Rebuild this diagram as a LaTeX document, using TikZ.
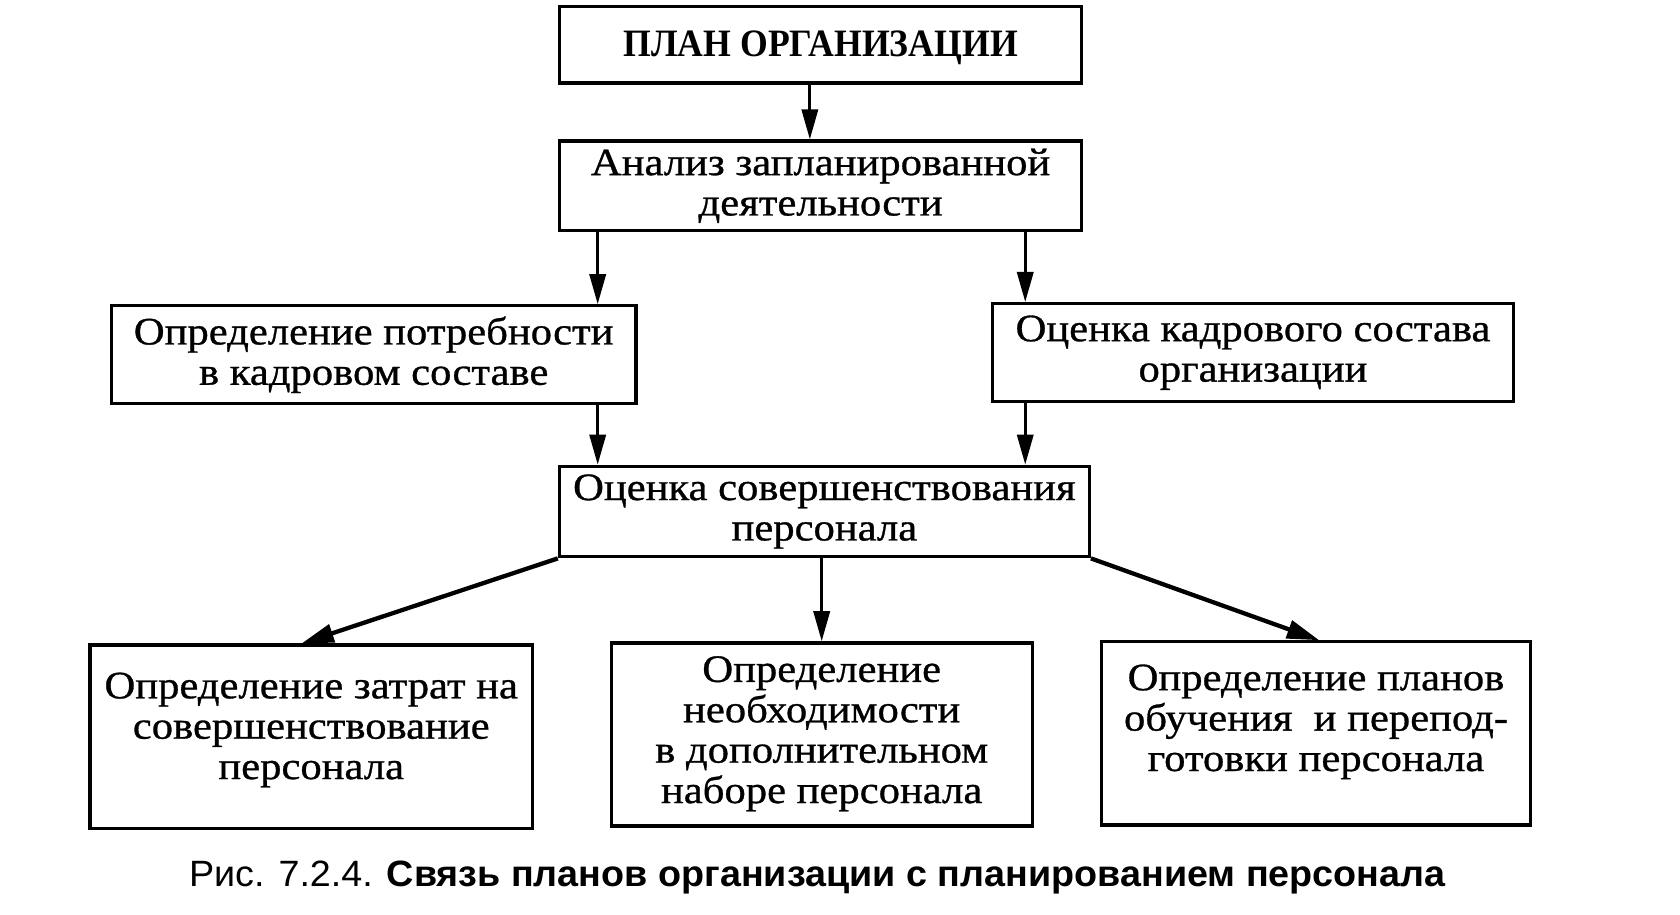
\documentclass[tikz,border=0pt]{standalone}
\usepackage{fontspec}
\setmainfont{Liberation Serif}[FakeStretch=1.1, FakeBold=0.8]
\newfontfamily\titlefont{Liberation Serif}[FakeStretch=0.92]
\newfontfamily\capfont{Liberation Sans}[FakeStretch=1.03]
\usetikzlibrary{arrows.meta}
\newcommand\lowstrut[1]{\rule[-#1pt]{0pt}{#1pt}}
\tikzset{
  box/.style={draw, line width=3pt, inner sep=0pt, align=center,
    font=\fontsize{36}{37.5}\selectfont},
  arr/.style={line width=3pt, -{Triangle[length=28pt,width=15pt]}},
  darr/.style={line width=4pt, -{Triangle[length=30pt,width=17pt]}}
}
\begin{document}
\begin{tikzpicture}[x=1pt,y=-1pt]
\useasboundingbox[fill=white] (0,0) rectangle (1560,849);
\node[box, minimum width=485pt, minimum height=71pt] (b1) at (762,41.5)
  {\titlefont\bfseries\rule{0pt}{30pt}ПЛАН ОРГАНИЗАЦИИ};
\node[box, minimum width=485pt, minimum height=83pt] (b2) at (762,172.5)
  {Анализ запланированной\\деятельности};
\node[box, minimum width=487pt, minimum height=91pt] (b3) at (347,329.5)
  {Определение потребности\\в кадровом составе};
\node[box, minimum width=484pt, minimum height=91pt] (b4) at (1163.5,327.5)
  {Оценка кадрового состава\\организации};
\node[box, minimum width=492pt, minimum height=84pt] (b5) at (765.5,475)
  {Оценка совершенствования\\персонала};
\node[box, minimum width=411pt, minimum height=170pt] (b6) at (289,684)
  {Определение затрат на\\совершенствование\\персонала\lowstrut{20}};
\node[box, minimum width=391pt, minimum height=170pt] (b7) at (763,682)
  {Определение\\необходимости\\в дополнительном\\наборе персонала\lowstrut{9}};
\node[box, minimum width=399pt, minimum height=170pt] (b8) at (1222,681)
  {Определение планов\\обучения\ \ и перепод-\\готовки персонала\lowstrut{29}};
\node[font=\capfont\fontsize{34}{36}\selectfont, anchor=center] (cap) at (759,815)
  {Рис. 7.2.4. \textbf{Связь планов организации с планированием персонала}};

\draw[arr] ([xshift=-10pt]b1.south) -- ([xshift=-10pt]b1.south |- b2.north);
\draw[arr] ([xshift=37pt]b2.south west) -- ([xshift=37pt]b2.south west |- b3.north);
\draw[arr] ([xshift=-54pt]b2.south east) -- ([xshift=-54pt]b2.south east |- b4.north);
\draw[arr] ([xshift=37pt]b5.north west |- b3.south) -- ([xshift=37pt]b5.north west);
\draw[arr] ([xshift=32pt]b4.south west) -- ([xshift=32pt]b4.south west |- b5.north);
\draw[darr] (b5.south west) -- ([xshift=198pt]b6.north west);
\draw[arr] (b7.north |- b5.south) -- (b7.north);
\draw[darr] (b5.south east) -- ([xshift=204pt]b8.north west);
\end{tikzpicture}
\end{document}
